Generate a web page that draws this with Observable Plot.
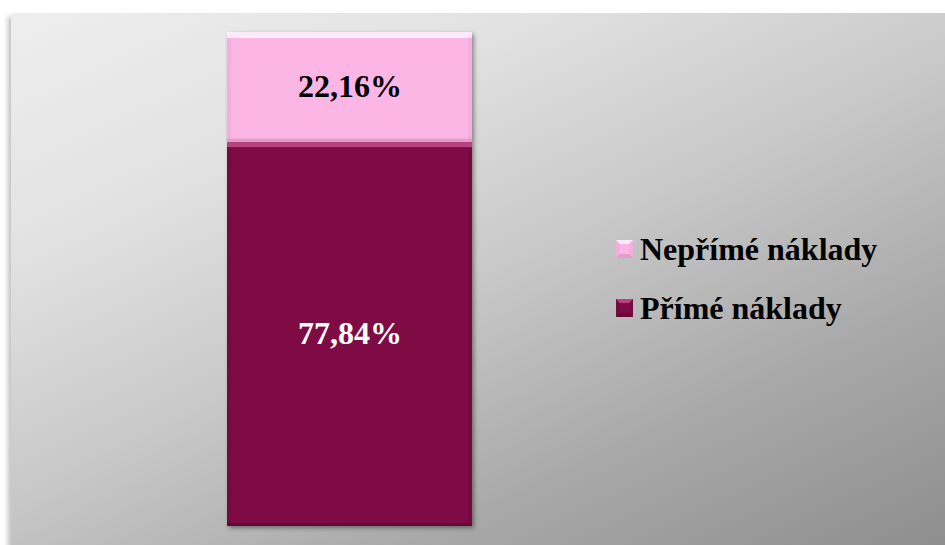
<!DOCTYPE html>
<html><head><meta charset="utf-8">
<script src="https://cdn.jsdelivr.net/npm/d3@7"></script>
<script src="https://cdn.jsdelivr.net/npm/@observablehq/plot@0.6"></script>
<style>
html,body{margin:0;padding:0;background:#fff;}
#wrap{position:relative;width:945px;height:545px;overflow:hidden;background:#fff;}
#panel{position:absolute;left:11px;top:13px;width:934px;height:532px;
 background:linear-gradient(155deg,#eeeeee 0%,#e2e2e2 25%,#c8c8c8 50%,#a8a8a8 75%,#8e8e8e 100%);
 box-shadow:-3px 4px 5px rgba(0,0,0,0.25);}
#chart{position:absolute;left:0;top:0;}
#legend{position:absolute;left:616px;top:0;font-family:"Liberation Serif","Times New Roman",serif;font-weight:bold;font-size:32px;color:#000;}
.item{position:absolute;left:0;display:flex;align-items:center;height:40px;white-space:nowrap;}
.sw{width:17px;height:18px;margin-right:7px;box-sizing:border-box;border-style:solid;border-width:4px;}
</style></head>
<body>
<div id="wrap"><div id="panel"></div><div id="chart"></div><div id="legend"></div></div>
<script>
const categories = ["Náklady"];
const series = ["Přímé náklady", "Nepřímé náklady"];
const values = [77.84, 22.16];
const labels = ["77,84%", "22,16%"];
const colors = ["#7f0b45", "#fcb6e6"];
const topColors = ["#b8447f", "#fde9f7"];
const sideColors = ["#760a40", "#f4aedd"];
const bottomColors = ["#62083a", "#e29dcb"];
const labelColors = ["#ffffff", "#000000"];
const legendOrder = ["Nepřímé náklady", "Přímé náklady"];

const data = series.map((s, i) => ({
  cat: categories[0], series: s, value: values[i], label: labels[i], lc: labelColors[i],
  base: colors[i], top: topColors[i], side: sideColors[i], bottom: bottomColors[i]
}));

const stack = (o) => Plot.stackY({x: "cat", y: "value", order: series, ...o});

const chart = Plot.plot({
  width: 945, height: 545,
  marginLeft: 227, marginRight: 473, marginTop: 32, marginBottom: 19,
  style: {background: "transparent"},
  x: {domain: categories, padding: 0, axis: null},
  y: {domain: [0, 100], axis: null},
  marks: [
    Plot.barY(data, stack({fill: "top", className: "outer"})),
    Plot.barY(data, stack({fill: "bottom", insetTop: 6})),
    Plot.barY(data, stack({fill: "side", insetTop: 6, insetBottom: 3})),
    Plot.barY(data, stack({fill: "base", insetTop: 6, insetBottom: 3, insetLeft: 4, insetRight: 4})),
    Plot.text(data, stack({text: "label", fill: "lc",
      fontFamily: "Liberation Serif, Times New Roman, serif", fontWeight: "bold", fontSize: 32}))
  ]
});
const outer = chart.querySelector(".outer");
if (outer) outer.style.filter = "drop-shadow(2px 2px 2px rgba(0,0,0,0.4))";
document.getElementById("chart").appendChild(chart);

const lg = document.getElementById("legend");
const centers = [249, 308];
legendOrder.forEach((s, k) => {
  const i = series.indexOf(s);
  const it = document.createElement("div"); it.className = "item";
  it.style.top = (centers[k] - 20) + "px";
  const sw = document.createElement("span"); sw.className = "sw";
  sw.style.background = colors[i];
  sw.style.borderColor = `${topColors[i]} ${sideColors[i]} ${bottomColors[i]} ${sideColors[i]}`;
  const t = document.createElement("span"); t.textContent = s;
  it.appendChild(sw); it.appendChild(t); lg.appendChild(it);
});
</script>
</body></html>
